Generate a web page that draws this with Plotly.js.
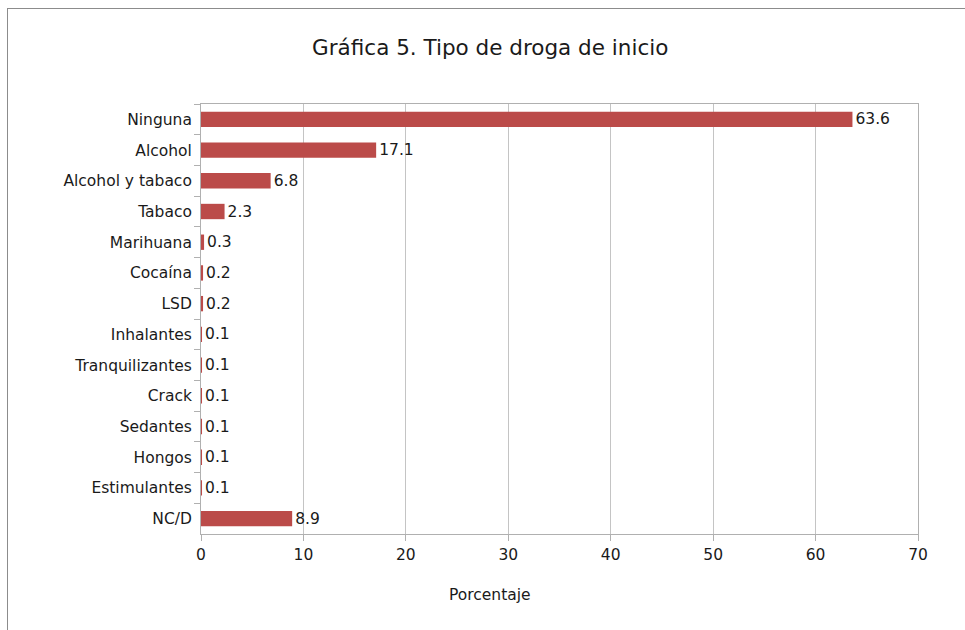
<!DOCTYPE html>
<html>
<head>
<meta charset="utf-8">
<script src="https://cdn.plot.ly/plotly-3.0.1.min.js"></script>
<style>
html,body{margin:0;padding:0;background:#fff;}
#frame{position:absolute;left:7px;top:8px;width:1000px;height:700px;border-left:1px solid #8c8c8c;border-top:1px solid #8c8c8c;pointer-events:none;z-index:5;}
#chart{width:965px;height:630px;}
</style>
</head>
<body>
<div id="frame"></div>
<div id="chart"></div>
<script>
var categories = ["Ninguna","Alcohol","Alcohol y tabaco","Tabaco","Marihuana","Cocaína","LSD","Inhalantes","Tranquilizantes","Crack","Sedantes","Hongos","Estimulantes","NC/D"];
var values = [63.6,17.1,6.8,2.3,0.3,0.2,0.2,0.1,0.1,0.1,0.1,0.1,0.1,8.9];
var tickVals = [0,10,20,30,40,50,60,70];

var font = "DejaVu Sans, Verdana, sans-serif";
var trace = {
  type: "bar",
  orientation: "h",
  x: values,
  y: categories,
  marker: {color: "#bb4b49"},
  text: values.map(function(v){return v.toFixed(1);}),
  textposition: "outside",
  constraintext: "none",
  cliponaxis: false,
  textfont: {family: font, size: 15.5, color: "#1a1a1a"},
  hoverinfo: "none"
};
var layout = {
  width: 965, height: 630,
  margin: {l: 201, r: 47, t: 104, b: 96},
  paper_bgcolor: "#fff", plot_bgcolor: "#fff",
  bargap: 0.5,
  showlegend: false,
  font: {family: font, size: 15.5, color: "#1a1a1a"},
  title: {text: "Gráfica 5. Tipo de droga de inicio", x: 0.508, xanchor: "center", y: 0.925, yanchor: "middle", font: {family: font, size: 21.5, color: "#1a1a1a"}},
  xaxis: {
    range: [0, 70], tickvals: tickVals, ticktext: tickVals.map(String),
    showgrid: true, gridcolor: "#c4c4c4", gridwidth: 1,
    showline: true, linecolor: "#b0b0b0", linewidth: 1, mirror: true,
    ticks: "outside", ticklen: 6, tickcolor: "#b0b0b0",
    tickfont: {family: font, size: 15.5, color: "#1a1a1a"},
    zeroline: false, fixedrange: true
  },
  yaxis: {
    categoryorder: "array", categoryarray: categories, autorange: "reversed",
    showline: true, linecolor: "#b0b0b0", linewidth: 1, mirror: true,
    ticks: "outside", ticklen: 6, tickcolor: "#b0b0b0", tickson: "boundaries",
    ticklabelstandoff: 5,
    tickfont: {family: font, size: 15.5, color: "#1a1a1a"},
    showgrid: false, fixedrange: true
  },
  annotations: [{
    text: "Porcentaje", xref: "paper", yref: "paper",
    x: (490 - 201) / 717, y: -(595 - 534) / 430, xanchor: "center", yanchor: "middle",
    showarrow: false, font: {family: font, size: 15.5, color: "#1a1a1a"}
  }]
};
Plotly.newPlot("chart", [trace], layout, {displayModeBar: false, staticPlot: true});
</script>
</body>
</html>
